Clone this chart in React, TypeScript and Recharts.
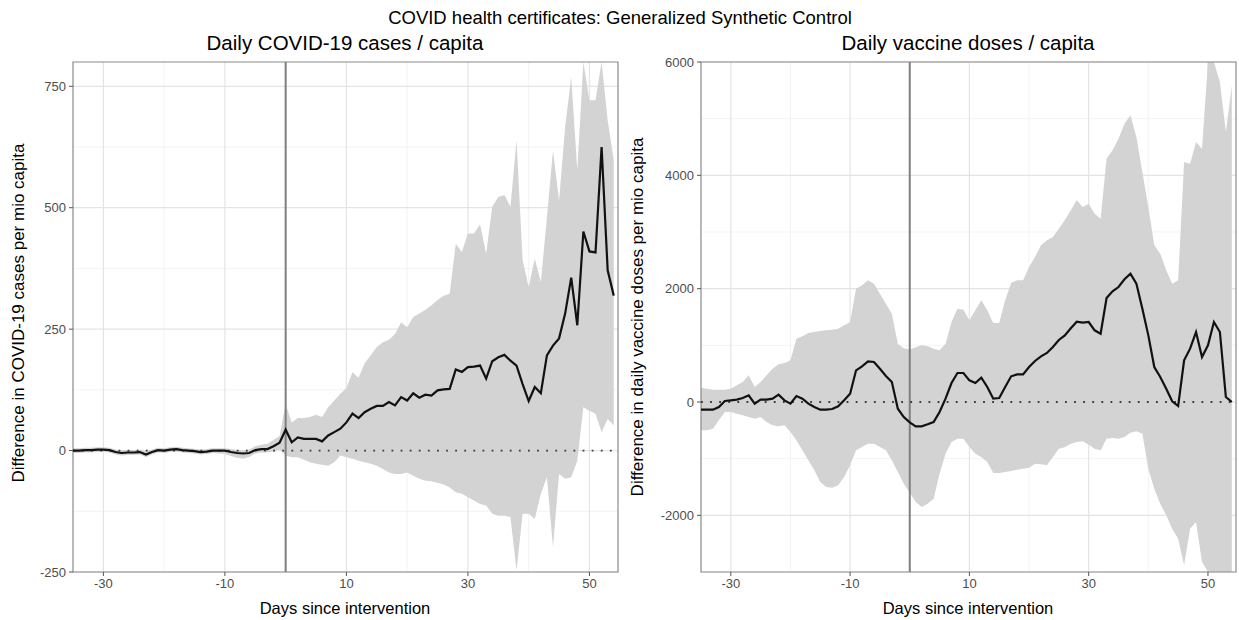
import React from 'react';
import { ComposedChart, Area, Line, XAxis, YAxis, ReferenceLine, ReferenceArea, CartesianGrid } from 'recharts';

const FONT = '"Liberation Sans", Arial, Helvetica, sans-serif';

const DAYS = [
  -35, -34, -33, -32, -31, -30, -29, -28, -27, -26,
  -25, -24, -23, -22, -21, -20, -19, -18, -17, -16,
  -15, -14, -13, -12, -11, -10, -9, -8, -7, -6,
  -5, -4, -3, -2, -1, 0, 1, 2, 3, 4,
  5, 6, 7, 8, 9, 10, 11, 12, 13, 14,
  15, 16, 17, 18, 19, 20, 21, 22, 23, 24,
  25, 26, 27, 28, 29, 30, 31, 32, 33, 34,
  35, 36, 37, 38, 39, 40, 41, 42, 43, 44,
  45, 46, 47, 48, 49, 50, 51, 52, 53, 54,
];

const X_TICKS = [-30, -10, 10, 30, 50];
const X_MINOR = [-20, 0, 20, 40];

// Panel 1: Daily COVID-19 cases / capita
const CASES_EFFECT = [
  0, 0, 1, 1, 2, 2, 1, -3, -5, -4,
  -4, -3, -8, -3, 1, 0, 2, 3, 1, 0,
  -1, -3, -2, 0, 0, 0, -3, -5, -6, -5,
  1, 3, 3, 9, 16, 43, 17, 27, 24, 24,
  24, 19, 31, 38, 45, 58, 76, 67, 79, 86,
  92, 92, 100, 93, 110, 103, 118, 109, 115, 113,
  124, 126, 127, 167, 162, 172, 173, 175, 148, 184,
  192, 197, 185, 175, 137, 102, 131, 118, 196, 216,
  231, 282, 356, 258, 451, 410, 408, 625, 371, 319,
];
const CASES_UPPER = [
  5, 5, 6, 6, 7, 7, 6, 2, 0, 1,
  1, 2, -2, 2, 6, 5, 7, 8, 6, 5,
  4, 2, 3, 5, 5, 5, 3, 1, 0, 2,
  9, 12, 14, 22, 30, 96, 58, 67, 67, 69,
  74, 69, 89, 103, 117, 129, 161, 150, 180, 196,
  213, 223, 228, 240, 264, 254, 275, 282, 290, 299,
  310, 319, 323, 426, 409, 447, 447, 466, 405, 502,
  522, 526, 502, 639, 392, 337, 395, 347, 480, 618,
  515, 666, 769, 577, 800, 721, 721, 800, 680, 598,
];
const CASES_LOWER = [
  -5, -5, -4, -4, -3, -3, -4, -8, -10, -9,
  -9, -8, -13, -8, -4, -5, -3, -2, -4, -5,
  -6, -8, -7, -5, -6, -7, -11, -15, -17, -13,
  -6, -4, -4, -2, 2, -10, -14, -14, -19, -24,
  -27, -29, -31, -24, -10, -14, -17, -21, -24, -27,
  -31, -38, -45, -48, -48, -45, -52, -58, -62, -63,
  -66, -70, -76, -86, -89, -96, -103, -110, -113, -130,
  -134, -134, -137, -247, -130, -130, -141, -89, -55, -199,
  -48, -58, -55, -21, 89, 82, 76, 38, 65, 52,
];
const CASES_Y_TICKS = [-250, 0, 250, 500, 750];
const CASES_Y_MINOR = [-125, 125, 375, 625];
const CASES_Y_DOMAIN = [-250, 800];

// Panel 2: Daily vaccine doses / capita
const VACC_EFFECT = [
  -135, -135, -135, -88, 18, 29, 41, 70, 118, -29,
  41, 41, 59, 129, 29, -29, 106, 59, -29, -88,
  -135, -135, -124, -76, 29, 147, 559, 629, 718, 706,
  588, 459, 353, -118, -265, -360, -429, -429, -394, -353,
  -176, 59, 335, 512, 512, 382, 335, 429, 265, 59,
  71, 265, 453, 488, 488, 618, 724, 806, 865, 971,
  1095, 1176, 1300, 1418, 1400, 1412, 1265, 1206, 1835, 1953,
  2029, 2165, 2265, 2088, 1647, 1176, 618, 441, 235, 12,
  -71, 735, 941, 1235, 794, 1000, 1412, 1235, 88, 0,
];
const VACC_UPPER = [
  253, 235, 218, 218, 218, 235, 294, 353, 470, 265,
  353, 470, 588, 665, 688, 735, 1118, 1159, 1218, 1235,
  1253, 1265, 1276, 1294, 1353, 1412, 2000, 2059, 2147, 2088,
  1912, 1735, 1559, 1029, 950, 925, 965, 1000, 982, 941,
  912, 1029, 1412, 1647, 1629, 1441, 1618, 1794, 1618, 1394,
  1394, 1794, 2100, 2147, 2147, 2382, 2559, 2765, 2853, 2912,
  3059, 3210, 3382, 3559, 3441, 3500, 3324, 3235, 4294, 4441,
  4647, 4912, 5059, 4676, 4059, 3441, 2765, 2618, 2324, 2088,
  2147, 4235, 4206, 4588, 4471, 6000, 6000, 5647, 4765, 5588,
];
const VACC_LOWER = [
  -500, -500, -471, -324, -176, -176, -206, -235, -265, -294,
  -265, -353, -412, -429, -412, -529, -676, -853, -1029, -1206,
  -1412, -1500, -1512, -1471, -1324, -1118, -853, -794, -735, -735,
  -794, -853, -1029, -1235, -1441, -1600, -1765, -1853, -1794, -1706,
  -1265, -912, -706, -647, -647, -794, -912, -971, -1059, -1253,
  -1253, -1235, -1218, -1194, -1176, -1159, -1088, -1100, -1118, -971,
  -824, -800, -735, -706, -694, -753, -824, -853, -647, -635,
  -647, -618, -541, -518, -559, -1176, -1529, -1794, -2000, -2235,
  -2412, -2882, -2235, -2118, -2824, -3000, -3000, -3000, -3000, -3000,
];
const VACC_Y_TICKS = [-2000, 0, 2000, 4000, 6000];
const VACC_Y_MINOR = [-3000, -1000, 1000, 3000, 5000];
const VACC_Y_DOMAIN = [-3000, 6000];

const X_DOMAIN = [-35, 54.7];

const MAIN_TITLE = 'COVID health certificates: Generalized Synthetic Control';
const TITLES = ['Daily COVID-19 cases / capita', 'Daily vaccine doses / capita'];
const Y_LABELS = ['Difference in COVID-19 cases per mio capita', 'Difference in daily vaccine doses per mio capita'];
const X_LABEL = 'Days since intervention';

function build(eff: number[], lo: number[], hi: number[]) {
  return DAYS.map((d, i) => ({ day: d, eff: eff[i], band: [lo[i], hi[i]] }));
}

const casesData = build(CASES_EFFECT, CASES_LOWER, CASES_UPPER);
const vaccData = build(VACC_EFFECT, VACC_LOWER, VACC_UPPER);

const tickStyle = { fill: '#4d4d4d', fontSize: 13, fontFamily: FONT };

function Panel(props: {
  data: any[];
  yDomain: number[];
  yTicks: number[];
  yMinor: number[];
  left: number;
  width: number;
  marginLeft: number;
  marginRight: number;
}) {
  const { data, yDomain, yTicks, yMinor, left, width, marginLeft, marginRight } = props;
  return (
    <div style={{ position: 'absolute', left, top: 0, width, height: 620 }}>
      <ComposedChart
        width={width}
        height={620}
        data={data}
        margin={{ top: 62, right: marginRight, bottom: 18, left: marginLeft }}
      >
        <CartesianGrid
          horizontalValues={yMinor}
          verticalValues={X_MINOR}
          stroke="#f0f0f0"
          strokeWidth={0.8}
        />
        <CartesianGrid
          horizontalValues={yTicks}
          verticalValues={X_TICKS}
          stroke="#e4e4e4"
          strokeWidth={1.2}
        />
        <XAxis
          dataKey="day"
          type="number"
          domain={X_DOMAIN}
          ticks={X_TICKS}
          allowDataOverflow
          height={30}
          tickSize={4}
          tickMargin={3}
          axisLine={false}
          tickLine={{ stroke: '#555' }}
          tick={tickStyle}
          interval={0}
        />
        <YAxis
          type="number"
          domain={yDomain}
          ticks={yTicks}
          allowDataOverflow
          width={50}
          tickSize={4}
          tickMargin={3}
          axisLine={false}
          tickLine={{ stroke: '#555' }}
          tick={tickStyle}
          interval={0}
        />
        <Area
          type="linear"
          dataKey="band"
          stroke="none"
          fill="#d3d3d3"
          fillOpacity={1}
          isAnimationActive={false}
          activeDot={false}
        />
        <ReferenceLine x={0} stroke="#7f7f7f" strokeWidth={2} />
        <ReferenceLine y={0} stroke="#3a3a3a" strokeWidth={1.8} strokeDasharray="1.8 7.3" />
        <Line
          type="linear"
          dataKey="eff"
          stroke="#111111"
          strokeWidth={2.2}
          dot={false}
          activeDot={false}
          isAnimationActive={false}
        />
        <ReferenceArea
          x1={X_DOMAIN[0]}
          x2={X_DOMAIN[1]}
          y1={yDomain[0]}
          y2={yDomain[1]}
          fill="none"
          stroke="#8a8a8a"
          strokeWidth={1.2}
          ifOverflow="visible"
        />
      </ComposedChart>
    </div>
  );
}

export default function App() {
  return (
    <div style={{ position: 'absolute', left: 0, top: 0, width: 1239, height: 620, background: '#ffffff', fontFamily: FONT }}>
      <Panel
        data={casesData}
        yDomain={CASES_Y_DOMAIN}
        yTicks={CASES_Y_TICKS}
        yMinor={CASES_Y_MINOR}
        left={0}
        width={620}
        marginLeft={23}
        marginRight={2}
      />
      <Panel
        data={vaccData}
        yDomain={VACC_Y_DOMAIN}
        yTicks={VACC_Y_TICKS}
        yMinor={VACC_Y_MINOR}
        left={620}
        width={619}
        marginLeft={31}
        marginRight={3}
      />
      <svg
        width={1239}
        height={620}
        style={{ position: 'absolute', left: 0, top: 0, pointerEvents: 'none' }}
      >
        <text x={620} y={24} textAnchor="middle" fontSize={18.5} fill="#000" fontFamily={FONT}>{MAIN_TITLE}</text>
        <text x={345} y={50} textAnchor="middle" fontSize={20.5} fill="#000" fontFamily={FONT}>{TITLES[0]}</text>
        <text x={968} y={50} textAnchor="middle" fontSize={20.5} fill="#000" fontFamily={FONT}>{TITLES[1]}</text>
        <text x={345} y={614} textAnchor="middle" fontSize={16.5} fill="#000" fontFamily={FONT}>{X_LABEL}</text>
        <text x={968} y={614} textAnchor="middle" fontSize={16.5} fill="#000" fontFamily={FONT}>{X_LABEL}</text>
        <text transform="translate(24,313) rotate(-90)" textAnchor="middle" fontSize={17} fill="#000" fontFamily={FONT}>{Y_LABELS[0]}</text>
        <text transform="translate(643,317) rotate(-90)" textAnchor="middle" fontSize={17} fill="#000" fontFamily={FONT}>{Y_LABELS[1]}</text>
      </svg>
    </div>
  );
}
